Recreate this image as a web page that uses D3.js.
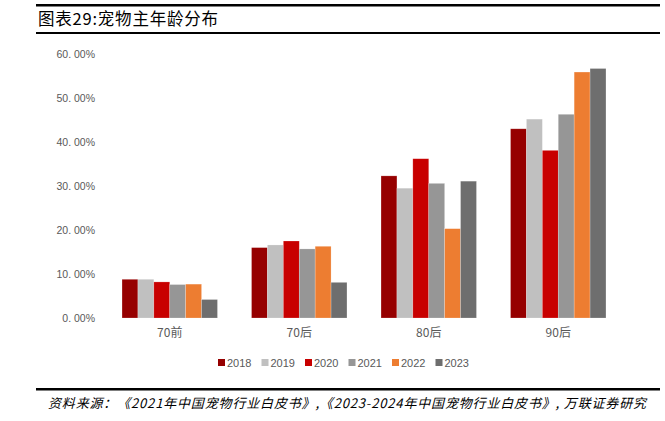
<!DOCTYPE html>
<html>
<head>
<meta charset="utf-8">
<script src="https://cdn.jsdelivr.net/npm/d3@7"></script>
<style>
  body { margin: 0; background: #fff; }
  svg { display: block; }
</style>
</head>
<body>
<svg width="665" height="421"></svg>
<script>
const categories = ["70前", "70后", "80后", "90后"];
const years = ["2018", "2019", "2020", "2021", "2022", "2023"];
const colors = ["#960000", "#c0c0c0", "#c80000", "#969696", "#ed7d31", "#6e6e6e"];
const v2018 = [8.8, 16.0, 32.3, 43.0];
const v2019 = [8.8, 16.6, 29.5, 45.2];
const v2020 = [8.2, 17.5, 36.2, 38.1];
const v2021 = [7.6, 15.7, 30.6, 46.3];
const v2022 = [7.7, 16.3, 20.3, 55.9];
const v2023 = [4.2, 8.1, 31.1, 56.7];
const yTicks = [0, 10, 20, 30, 40, 50, 60];

const series = [v2018, v2019, v2020, v2021, v2022, v2023];
const rows = [];
categories.forEach((c, i) => {
    years.forEach((y, j) => rows.push({ c: c, y: y, v: series[j][i] }));
});

const svg = d3.select("svg");
const grey = "#595959";

// frame lines
svg.append("rect").attr("x", 36).attr("y", 4).attr("width", 624).attr("height", 2.5).attr("fill", "#000");
svg.append("rect").attr("x", 36).attr("y", 32).attr("width", 624).attr("height", 2).attr("fill", "#000");
svg.append("rect").attr("x", 36).attr("y", 388).attr("width", 624).attr("height", 2.5).attr("fill", "#000");

svg.append("text")
    .attr("x", 38).attr("y", 25)
    .attr("font-family", "'Noto Sans CJK SC', sans-serif")
    .attr("font-size", 16.5)
    .attr("fill", "#000")
    .attr("textLength", 180)
    .text("图表29:宠物主年龄分布");

svg.append("text")
    .attr("x", 48).attr("y", 408)
    .attr("font-family", "'Noto Sans CJK SC', sans-serif")
    .attr("font-size", 13)
    .attr("font-style", "italic")
    .attr("fill", "#000")
    .attr("textLength", 598)
    .text("资料来源：《2021年中国宠物行业白皮书》,《2023-2024年中国宠物行业白皮书》, 万联证券研究");

const x = d3.scaleBand().domain(categories).range([105, 623]).paddingInner(0.263).paddingOuter(0.1315);
const xs = d3.scaleBand().domain(years).range([0, x.bandwidth()]);
const y = d3.scaleLinear().domain([0, 60]).range([318, 54]);

const fmt = d => d3.format(".2f")(d).replace(".", ". ") + "%";

const ya = svg.append("g")
    .attr("transform", "translate(95,0)")
    .call(d3.axisLeft(y).tickValues(yTicks).tickSize(0).tickPadding(0).tickFormat(fmt));
ya.select(".domain").remove();
ya.selectAll("text")
    .attr("font-family", "'Liberation Sans', Arial, sans-serif")
    .attr("font-size", 10.5)
    .attr("fill", grey);

const xa = svg.append("g")
    .attr("transform", "translate(0,318)")
    .call(d3.axisBottom(x).tickSize(0).tickPadding(10));
xa.select(".domain").remove();
xa.selectAll("text")
    .attr("font-family", "'Noto Sans CJK SC', sans-serif")
    .attr("font-size", 12)
    .attr("fill", grey);

const color = d3.scaleOrdinal().domain(years).range(colors);

svg.append("g").selectAll("rect")
    .data(rows)
    .enter()
    .append("rect")
    .attr("x", d => x(d.c) + xs(d.y))
    .attr("y", d => y(d.v))
    .attr("width", xs.bandwidth())
    .attr("height", d => y(0) - y(d.v))
    .attr("fill", d => color(d.y))
    .attr("stroke", "#fff")
    .attr("stroke-opacity", 0.35)
    .attr("stroke-width", 0.6);

const leg = svg.append("g").attr("transform", "translate(218,358)");
years.forEach((yr, i) => {
    const g = leg.append("g").attr("transform", `translate(${i * 43.5},0)`);
    g.append("rect").attr("width", 7).attr("height", 7).attr("y", 1).attr("fill", color(yr));
    g.append("text").attr("x", 9).attr("y", 8.5).text(yr)
        .attr("font-family", "'Liberation Sans', Arial, sans-serif")
        .attr("font-size", 11)
        .attr("fill", grey);
});
</script>
</body>
</html>
